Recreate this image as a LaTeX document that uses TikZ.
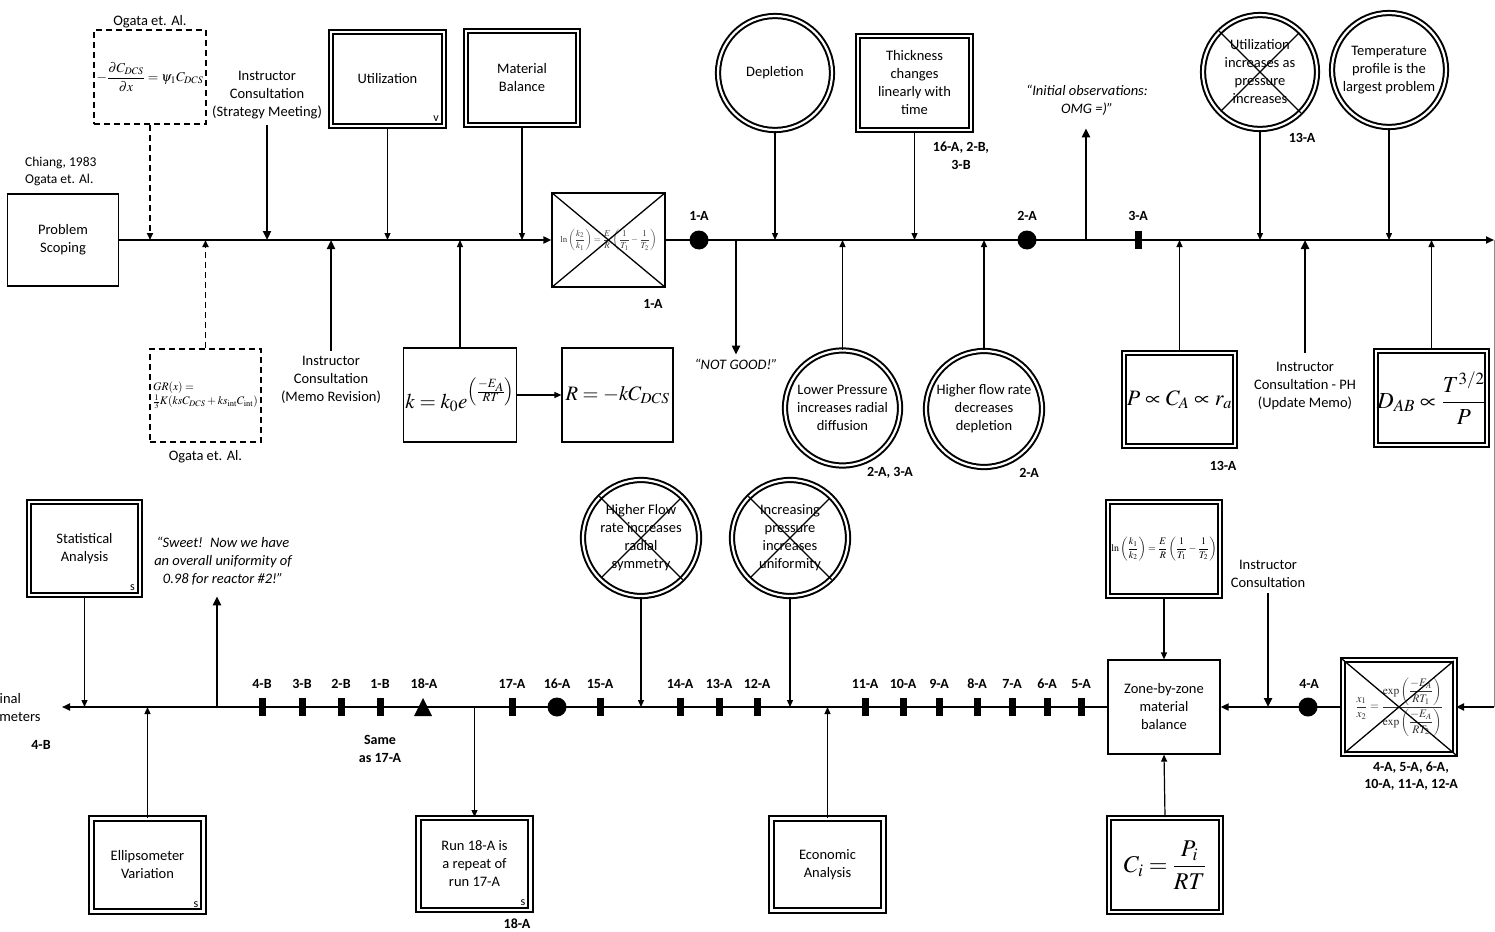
\documentclass[tikz,border=0pt]{standalone}
\usepackage{amsmath}
\usepackage[no-math]{fontspec}
\usepackage{mathptmx}
\setmainfont{Carlito}
\usetikzlibrary{arrows.meta}
\begin{document}
\begin{tikzpicture}[x=1pt,y=-1pt,
  tx/.style={font=\fontsize{14.5}{18}\selectfont, align=center, inner sep=0pt},
  lb/.style={font=\bfseries\fontsize{14}{17.5}\selectfont, align=center, inner sep=0pt},
  qt/.style={font=\itshape\fontsize{14.5}{18}\selectfont, align=center, inner sep=0pt},
  sm/.style={font=\fontsize{12}{12}\selectfont, inner sep=0pt},
  sbox/.style={draw, line width=1.2pt, inner sep=0pt, align=center, font=\fontsize{14.5}{18}\selectfont, minimum width=112, minimum height=93},
  dbox/.style={draw, line width=2pt, double=white, double distance=2.2pt, inner sep=0pt, align=center, font=\fontsize{14.5}{18}\selectfont, minimum width=112, minimum height=93},
  dcirc/.style={dbox, circle, minimum size=115},
  dashbox/.style={draw, line width=1.4pt, dash pattern=on 6pt off 4pt, inner sep=0pt, minimum width=111, minimum height=93},
  ar/.style={line width=1.2pt, -{Triangle[length=7pt,width=6pt]}},
  dar/.style={line width=1.6pt, dash pattern=on 6pt off 4pt, -{Triangle[length=7pt,width=6pt]}},
  tar/.style={line width=2.4pt, -{Triangle[length=9pt,width=8pt]}},
  axis/.style={line width=1.8pt, -{Triangle[length=8pt,width=7pt]}},
  dot/.style={circle, fill, inner sep=0pt, minimum size=19pt},
  tick/.style={rectangle, fill, inner sep=0pt, minimum width=7pt, minimum height=18pt},
  cross/.style={line width=1.3pt, shorten >=3pt, shorten <=3pt}]
\useasboundingbox (0,0) rectangle (1495,931);

% ---------- top row ----------
\coordinate (tR) at (1494,240);
\coordinate (bR) at (1494,707);
\coordinate (bL) at (62,707);

\node[tx, anchor=north west, align=left, font=\fontsize{13.5}{17}\selectfont] (chi) at (25,157) {Chiang, 1983\\Ogata et. Al.};
\node[sbox, minimum width=111, minimum height=92] (ps) at (63,240) {Problem\\Scoping};

\node[dashbox, minimum width=112, minimum height=94] (og1) at (150,77) {\fontsize{13.5}{15}\selectfont$\displaystyle -\frac{\partial C_{DCS}}{\partial x}=\psi_1 C_{DCS}$};
\node[tx] (og1l) at (150,22) {Ogata et. Al.};
\node[dashbox, align=left] (og2) at (205.5,395.5) {\fontsize{11.5}{22}\selectfont $GR(x)=$\\\fontsize{11.5}{22}\selectfont$\frac{1}{3}K(ksC_{DCS}+ks_{\mathrm{int}}C_{\mathrm{int}})$};
\node[tx] (og2l) at (205.5,457) {Ogata et. Al.};

\node[tx] (ic1) at (267,95) {Instructor\\Consultation\\(Strategy Meeting)};
\node[tx] (ic2) at (331,380) {Instructor\\Consultation\\(Memo Revision)};

\node[dbox, minimum width=113, minimum height=94] (ut) at (387.5,79) {Utilization};
\node[sm, anchor=south east] at ([xshift=-6pt,yshift=5pt]ut.south east) {v};
\node[dbox, minimum width=112, minimum height=94] (mb) at (522,78) {Material\\Balance};

\node[sbox, minimum width=113, minimum height=94] (kb) at (460,395) {\fontsize{21}{24}\selectfont$k=k_0e^{\left(\frac{-E_A}{RT}\right)}$};
\node[sbox, minimum width=111, minimum height=94] (rb) at (617.5,395) {\fontsize{20.5}{24}\selectfont$R=-kC_{DCS}$};

\node[sbox, minimum width=113, minimum height=94] (fx) at (608.5,240) {\color{black!75}\fontsize{9}{10}\selectfont$\displaystyle\ln\left(\frac{k_2}{k_1}\right)=\frac{E}{R}\left(\frac{1}{T_1}-\frac{1}{T_2}\right)$};
\draw[cross, shorten >=0pt, shorten <=0pt] (fx.north west) -- (fx.south east) (fx.north east) -- (fx.south west);
\node[lb] (fxl) at (653,304) {1-A};

\draw[line width=1pt, black!45] (tR) -- (bR);
\draw[axis] (ps.east) -- (fx.west);
\draw[axis] (fx.east) -- (tR);

\draw[dar] (og1.south) -- (og1.south |- tR);
\draw[dar] (og2.north) -- (og2.north |- tR);
\draw[tar] ([yshift=-6pt]ic1.south) -- (ic1.south |- tR);
\draw[tar] ([yshift=5pt]ic2.north) -- (ic2.north |- tR);
\draw[ar] (ut.south) -- (ut.south |- tR);
\draw[ar] (mb.south) -- (mb.south |- tR);
\draw[ar] (kb.north) -- (kb.north |- tR);
\draw[ar] (kb.east) -- (rb.west);

\node[dot] (d1) at (699,240) {};
\node[lb] at (699,216) {1-A};
\node[qt] (ng) at (736,364) {“NOT GOOD!”};
\draw[tar] (ng.north |- tR) -- ([yshift=4pt]ng.north);

\node[dcirc, minimum size=114] (dep) at (775,73) {Depletion};
\draw[ar] (dep.south) -- (dep.south |- tR);
\node[dcirc] (lp) at (842.5,408) {Lower Pressure\\increases radial\\diffusion};
\draw[ar] (lp.north) -- (lp.north |- tR);
\node[lb] at (890,473) {2-A, 3-A};

\node[dbox, minimum width=113, minimum height=94] (th) at (914.5,83) {Thickness\\changes\\linearly with\\time};
\draw[ar] (th.south) -- (th.south |- tR);
\node[lb] at (961,156) {16-A, 2-B,\\3-B};

\node[dcirc, minimum size=116] (hf) at (984,409) {Higher flow rate\\decreases\\depletion};
\draw[ar] (hf.north) -- (hf.north |- tR);
\node[lb] at (1029,473) {2-A};

\node[dot] (d2) at (1027,240) {};
\node[lb] at (1027,216) {2-A};

\node[qt] (io) at (1087,100) {“Initial observations:\\OMG =)”};
\draw[tar] ([xshift=-1pt]io.south |- tR) -- ([xshift=-1pt,yshift=-13pt]io.south);

\node[tick] (t3) at (1138,240) {};
\node[lb] at (1138,216) {3-A};

\node[dbox, minimum width=111, minimum height=93] (pb) at (1179.5,399.5) {\fontsize{22}{26}\selectfont$P\propto C_A\propto r_a$};
\draw[ar] (pb.north) -- (pb.north |- tR);
\node[lb] at (1223,466) {13-A};

\node[dcirc, minimum size=114] (uc) at (1260,72) {Utilization\\increases as\\pressure\\increases};
\draw[cross] (uc.135) -- (uc.-45) (uc.45) -- (uc.-135);
\draw[ar] (uc.south) -- (uc.south |- tR);
\node[lb] at (1302,138) {13-A};

\node[tx] (ic3) at (1305,386) {Instructor\\Consultation - PH\\(Update Memo)};
\draw[tar] ([yshift=9pt]ic3.north) -- (ic3.north |- tR);

\node[dcirc, minimum size=114] (tc) at (1389,70) {Temperature\\profile is the\\largest problem};
\draw[ar] (tc.south) -- (tc.south |- tR);

\node[dbox, minimum width=111, minimum height=94] (db) at (1431.5,398) {\fontsize{23}{26}\selectfont$D_{AB}\propto\dfrac{T^{3/2}}{P}$};
\draw[ar] (db.north) -- (db.north |- tR);

% ---------- bottom row ----------
\node[dbox, minimum width=112, minimum height=94] (ex) at (1399,707) {\color{black!80}\fontsize{11.5}{13}\selectfont$\displaystyle\frac{x_1}{x_2}=\frac{\exp\left(\dfrac{-E_A}{RT_1}\right)}{\exp\left(\dfrac{-E_A}{RT_2}\right)}$};
\draw[cross] (ex.north west) -- (ex.south east) (ex.north east) -- (ex.south west);
\node[lb] at (1411,776) {4-A, 5-A, 6-A,\\10-A, 11-A, 12-A};

\node[sbox, minimum width=112, minimum height=94] (zone) at (1164,707) {Zone-by-zone\\material\\balance};
\node[dbox, minimum width=112, minimum height=94] (lnb) at (1164,549) {\fontsize{10}{11}\selectfont$\displaystyle\ln\left(\frac{k_1}{k_2}\right)=\frac{E}{R}\left(\frac{1}{T_1}-\frac{1}{T_2}\right)$};
\node[dbox, minimum width=112, minimum height=94] (cb) at (1165,865) {\fontsize{24}{26}\selectfont$C_i=\dfrac{P_i}{RT}$};

\draw[axis] (bR) -- (ex.east);
\draw[axis] (ex.west) -- (zone.east);
\draw[axis] (zone.west) -- (bL);
\draw[ar] (lnb.south) -- (zone.north);
\draw[ar] (cb.north) -- (zone.south);

\node[dot] (d4) at (1308,707) {};
\node[lb] at (1309,684) {4-A};
\node[tx] (ic4) at (1268,574) {Instructor\\Consultation};
\draw[tar] ([yshift=-5pt]ic4.south) -- (ic4.south |- bR);

\foreach \x/\l in {262/4-B,302/3-B,341/2-B,380/1-B,512/17-A,600/15-A,680/14-A,719/13-A,757/12-A,865/11-A,903/10-A,939/9-A,977/8-A,1012/7-A,1047/6-A,1081/5-A}{
  \node[tick] (tk\l) at (\x,707) {};
  \node[lb] at (\x,684) {\l};
}
\node[dot] (d16) at (557,707) {};
\node[lb] at (557,684) {16-A};
\coordinate (m18) at (423,707);
\fill (m18) ++(-9,9) -- ++(18,0) -- ++(-9,-18) -- cycle;
\node[lb] at (424,684) {18-A};
\node[lb] at (380,749) {Same\\as 17-A};

\node[dcirc, minimum size=116] (inc) at (790,538) {Increasing\\pressure\\increases\\uniformity};
\draw[cross] (inc.135) -- (inc.-45) (inc.45) -- (inc.-135);
\draw[ar] (inc.south) -- (inc.south |- bR);
\node[dcirc, minimum size=116] (hfl) at (641,538) {Higher Flow\\rate increases\\radial\\symmetry};
\draw[cross] (hfl.135) -- (hfl.-45) (hfl.45) -- (hfl.-135);
\draw[ar] (hfl.south) -- (hfl.south |- bR);

\node[dbox, minimum width=112, minimum height=92] (eco) at (827.5,864.5) {Economic\\Analysis};
\draw[ar] (eco.north) -- (eco.north |- bR);

\node[dbox, minimum width=112, minimum height=92] (run) at (474.5,864) {Run 18-A is\\a repeat of\\run 17-A};
\node[sm, anchor=south east] at ([xshift=-6pt,yshift=5pt]run.south east) {s};
\draw[ar] (run.north |- bR) -- (run.north);
\node[lb] at (517,924) {18-A};

\node[qt] (sw) at (223,561) {“Sweet!\enspace Now we have\\an overall uniformity of\\0.98 for reactor \#2!”};
\draw[tar] ([xshift=-6pt]sw.south |- bR) -- ([xshift=-6pt,yshift=-11pt]sw.south);

\node[dbox, minimum width=111, minimum height=93] (st) at (84.5,548.5) {Statistical\\Analysis};
\node[sm, anchor=south east] at ([xshift=-6pt,yshift=5pt]st.south east) {s};
\draw[ar] (st.south) -- (st.south |- bL);

\node[dbox, minimum width=112, minimum height=93] (ell) at (147.5,865) {Ellipsometer\\Variation};
\node[sm, anchor=south east] at ([xshift=-6pt,yshift=5pt]ell.south east) {s};
\draw[ar] (ell.north) -- (ell.north |- bL);

\node[tx] (fp) at (7,708) {Final\\Parameters};
\node[lb] at (41,745) {4-B};
\end{tikzpicture}
\end{document}
